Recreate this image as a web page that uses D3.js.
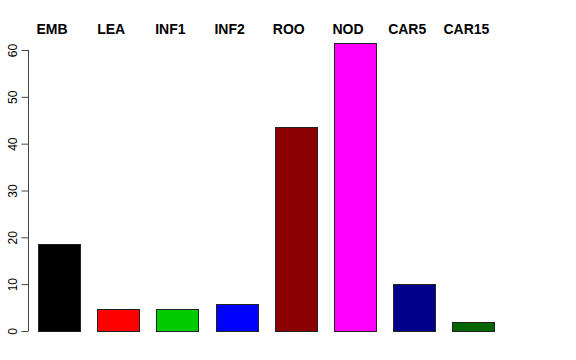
<!DOCTYPE html>
<html>
<head>
<meta charset="utf-8">
<script src="https://cdn.jsdelivr.net/npm/d3@7"></script>
<style>
  body { margin: 0; background: #fff; }
  text { font-family: "Liberation Sans", Arial, sans-serif; }
</style>
</head>
<body>
<script>
let width = 576, height = 360;

let categories = ["EMB", "LEA", "INF1", "INF2", "ROO", "NOD", "CAR5", "CAR15"];
let values = [18.6, 4.7, 4.7, 5.8, 43.5, 61.6, 10.0, 1.9];
let colors = ["#000000", "#ff0000", "#00cd00", "#0000ff", "#8b0000", "#ff00ff", "#00008b", "#006400"];
let yTicks = [0, 10, 20, 30, 40, 50, 60];

let svg = d3.select("body").append("svg")
    .attr("width", width)
    .attr("height", height);

let x = d3.scaleBand()
    .domain(categories)
    .range([20.2, 512.2])
    .paddingInner(0.29)
    .paddingOuter(0.3);

let y = d3.scaleLinear()
    .domain([0, 60])
    .range([331, 50]);

// bars
svg.append("g")
  .selectAll("rect")
    .data(categories)
  .enter().append("rect")
    .attr("x", d => Math.round(x(d)) + 0.5)
    .attr("y", (d, i) => Math.round(y(values[i])) + 0.5)
    .attr("width", Math.round(x.bandwidth()))
    .attr("height", (d, i) => Math.round(y(0)) - Math.round(y(values[i])))
    .attr("fill", (d, i) => colors[i])
    .attr("stroke", "#222")
    .attr("stroke-width", 1);

// y axis
let axis = svg.append("g")
    .attr("transform", "translate(28.5,0)")
    .call(d3.axisLeft(y).tickValues(yTicks).tickSize(7).tickPadding(8));

axis.select(".domain")
    .attr("stroke", "#444")
    .attr("d", "M0," + y(0) + "V" + y(60));
axis.selectAll(".tick line").attr("stroke", "#444");
axis.selectAll(".tick text")
    .attr("font-size", 12)
    .attr("fill", "#000")
    .attr("x", null)
    .attr("y", null)
    .attr("dy", null)
    .attr("text-anchor", "middle")
    .attr("transform", "translate(-16,0) rotate(-90)")
    .attr("dominant-baseline", "central");

// category labels across the top
svg.append("g")
  .selectAll("text")
    .data(categories)
  .enter().append("text")
    .attr("x", d => x(d) + x.bandwidth() / 2 - 7)
    .attr("y", 34)
    .attr("text-anchor", "middle")
    .attr("font-size", 14)
    .attr("font-weight", "bold")
    .text(d => d);
</script>
</body>
</html>
